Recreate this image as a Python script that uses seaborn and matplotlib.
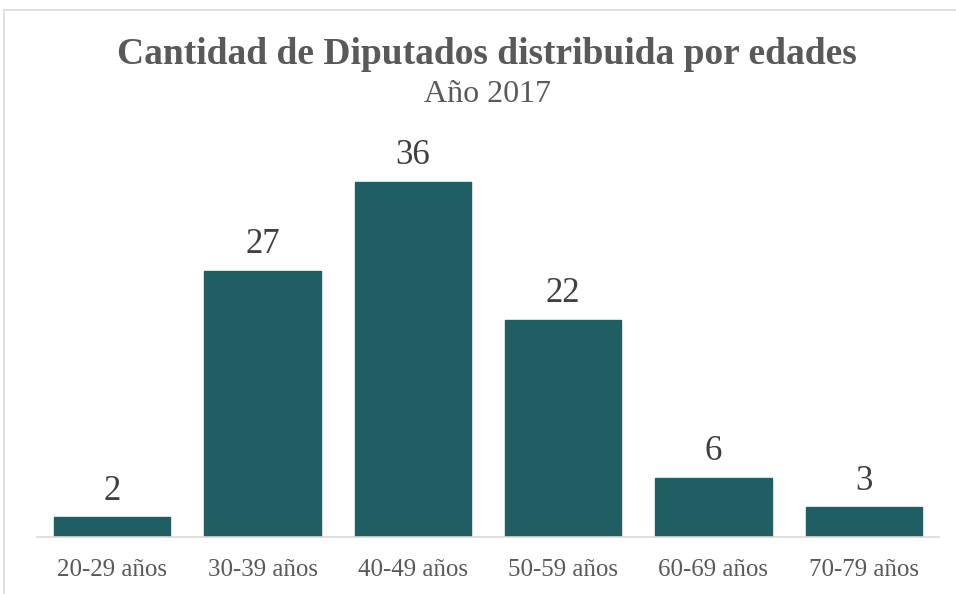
import matplotlib
matplotlib.use("Agg")
import matplotlib.pyplot as plt
import seaborn as sns
import pandas as pd

categories = ["20-29 años", "30-39 años", "40-49 años", "50-59 años", "60-69 años", "70-79 años"]
values = [2, 27, 36, 22, 6, 3]
title = "Cantidad de Diputados distribuida por edades"
subtitle = "Año 2017"

df = pd.DataFrame({"edad": categories, "cantidad": values})

sns.set_style("white")
plt.rcParams["font.family"] = ["Liberation Serif", "DejaVu Serif"]

fig = plt.figure(figsize=(9.56, 5.94), dpi=100)
ax = fig.add_axes([37/956, 57/594, 902/956, 420/594])

sns.barplot(data=df, x="edad", y="cantidad", color="#1F5E63", saturation=1,
            width=0.773, ax=ax, edgecolor="#1F5E63")

ax.set_xlim(-0.5, 5.5)
ax.set_ylim(0, 420/9.86)
for c in ax.containers:
    ax.bar_label(c, labels=[str(v) for v in values], padding=7, fontsize=25, color="#404040")

ax.set_xlabel("")
ax.set_ylabel("")
ax.set_yticks([])
for s in ["top", "left", "right"]:
    ax.spines[s].set_visible(False)
ax.spines["bottom"].set_color("#D9D9D9")
ax.spines["bottom"].set_linewidth(1.2)
ax.tick_params(axis="x", length=0, pad=16, labelsize=18, labelcolor="#595959")

fig.text(487/956, 1 - 55/594, title, ha="center", va="center", fontsize=27,
         fontweight="bold", color="#595959")
fig.text(487/956, 1 - 94/594, subtitle, ha="center", va="center", fontsize=23, color="#595959")

border = plt.Rectangle((4/956, -0.02), 1.2, 1 - 10/594 + 0.02, transform=fig.transFigure,
                       fill=False, edgecolor="#D9D9D9", linewidth=1.2)
fig.patches.append(border)

fig.savefig("out.png", dpi=100)
